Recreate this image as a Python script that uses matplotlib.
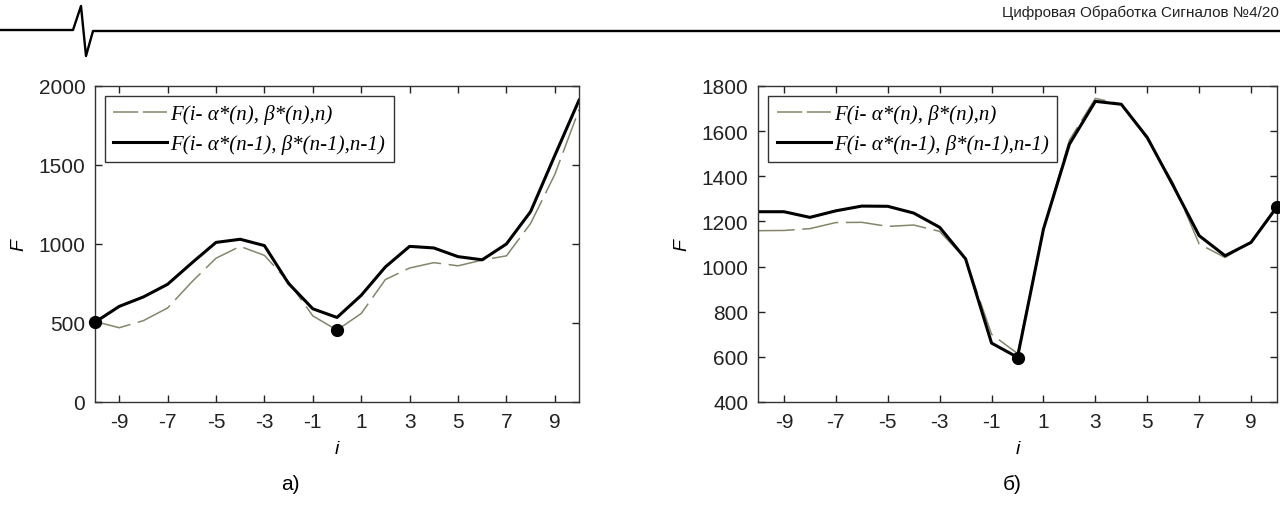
import matplotlib
matplotlib.use("Agg")
import matplotlib.pyplot as plt

plt.rcParams['font.family'] = ['Liberation Sans', 'DejaVu Sans']
plt.rcParams['axes.unicode_minus'] = False

# data
i_vals = list(range(-10, 11))

# panel a)
a_prev = [505, 605, 665, 745, 880, 1010, 1030, 990, 750, 590, 535,
          675, 855, 985, 975, 920, 900, 1000, 1205, 1560, 1910]
a_cur = [510, 470, 515, 595, 760, 910, 985, 928, 760, 545, 455,
         560, 775, 848, 882, 862, 898, 925, 1130, 1440, 1850]
a_marks_i = [-10, 0]
a_marks_F = [505, 455]

# panel б)
b_prev = [1243, 1243, 1218, 1247, 1268, 1267, 1237, 1174, 1034, 661, 598,
          1166, 1542, 1732, 1719, 1572, 1358, 1137, 1048, 1107, 1265]
b_cur = [1159, 1160, 1168, 1195, 1196, 1178, 1184, 1156, 1034, 700, 615,
         1166, 1560, 1745, 1720, 1565, 1370, 1100, 1040, 1110, 1255]
b_marks_i = [0, 10]
b_marks_F = [595, 1265]

lbl_cur = 'F(i- \u03b1*(n), \u03b2*(n),n)'
lbl_prev = 'F(i- \u03b1*(n-1), \u03b2*(n-1),n-1)'

W, H = 1280, 506
fig = plt.figure(figsize=(W / 100, H / 100), dpi=100)

def px(x0, y0, x1, y1):
    return [x0 / W, 1 - y1 / H, (x1 - x0) / W, (y1 - y0) / H]

dash_col = '#858569'

def panel(rect, cur, prev, mi, mF, ylim, yticks, cap, cap_x):
    ax = fig.add_axes(rect)
    ax.plot(i_vals, cur, color=dash_col, lw=1.1, dashes=(24, 5), label=lbl_cur)
    ax.plot(i_vals, prev, color='black', lw=2.2, label=lbl_prev)
    ax.plot(mi, mF, 'o', color='black', ms=8.5, clip_on=False, zorder=5)
    ax.set_xlim(-10, 10)
    ax.set_ylim(*ylim)
    ax.set_xticks(range(-9, 10, 2))
    ax.set_yticks(yticks)
    ax.tick_params(direction='in', top=True, right=True, length=5,
                   labelsize=15, pad=7, colors='#222222', width=1)
    for s in ax.spines.values():
        s.set_linewidth(1)
        s.set_color('#333333')
    ax.set_xlabel('i', fontsize=14, style='italic', labelpad=7)
    ax.set_ylabel('F', fontsize=14, style='italic', labelpad=8)
    leg = ax.legend(loc='upper left', bbox_to_anchor=(0.02, 0.968),
                    prop={'family': 'Liberation Serif', 'style': 'italic', 'size': 15},
                    frameon=True, fancybox=False, edgecolor='black',
                    borderpad=0.4, labelspacing=0.45, handlelength=2.6,
                    handletextpad=0.15, borderaxespad=0)
    leg.get_frame().set_linewidth(1)
    # legend handle for the dashed series: two long dashes, as in the source
    leg.get_lines()[0].set_dashes((16.5, 3))
    fig.text(cap_x / W, 1 - 485 / H, cap, fontsize=15, ha='center', va='center')
    return ax

panel(px(95, 87, 579, 403), a_cur, a_prev, a_marks_i, a_marks_F,
      (0, 2000), [0, 500, 1000, 1500, 2000], '\u0430)', 290)
panel(px(758, 87, 1277, 403), b_cur, b_prev, b_marks_i, b_marks_F,
      (400, 1800), [400, 600, 800, 1000, 1200, 1400, 1600, 1800], '\u0431)', 1012)

# journal header line with the spike
hx = [0, 73, 81, 86, 93, 1280]
hy = [31, 31, 7, 57, 32, 32]
fig.add_artist(plt.Line2D([x / W for x in hx], [1 - y / H for y in hy],
                          color='black', lw=1.7, transform=fig.transFigure))
fig.text(1279 / W, 1 - 13 / H, 'Цифровая Обработка Сигналов №4/20',
         fontsize=11, ha='right', va='center', color='#222222')

fig.savefig('out.png', dpi=100)
